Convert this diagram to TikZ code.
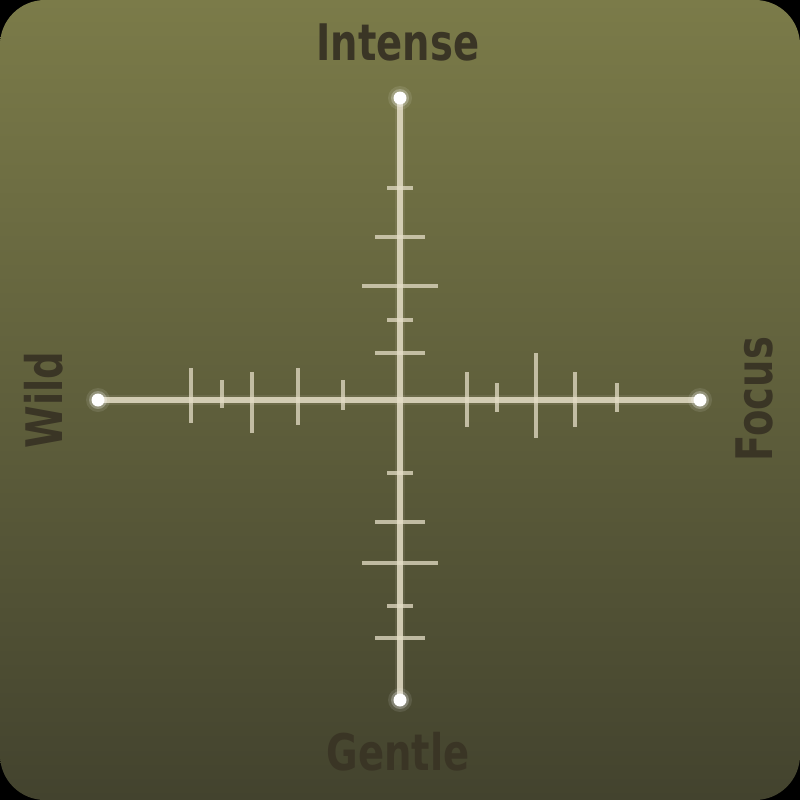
\documentclass[tikz,border=0pt]{standalone}
\usepackage{fontspec}
\newfontfamily\axfont{DejaVu Sans Condensed}
\definecolor{bgtop}{HTML}{7B7B49}
\definecolor{bgbot}{HTML}{43432E}
\definecolor{ink}{HTML}{3A3525}
\definecolor{chalk}{HTML}{E4DDC6}
\newcommand\narrow[1]{\scalebox{.85}[1]{#1}}
\tikzset{px/.style={x=.3mm,y=-.3mm},
  axisline/.style={chalk,line width=4.3pt,opacity=.85},
  glowline/.style={chalk,line width=8pt,opacity=.1},
  tickline/.style={chalk,line width=4pt,opacity=.75},
  pole/.style={ink,inner sep=0pt,anchor=base,font=\axfont\bfseries\fontsize{43}{43}\selectfont}}

\begin{document}
\begin{tikzpicture}[px]
  \fill[black] (0,0) rectangle (800,800);
  \shade[top color=bgtop,bottom color=bgbot,rounded corners=13.5mm] (0,0) rectangle (800,800);
  \coordinate (west) at (98,400);
  \coordinate (east) at (700,400);
  \coordinate (north) at (400,98);
  \coordinate (south) at (400,700);
  \foreach \x/\a/\b in {191/368/423,222/380/408,252/372/433,298/368/425,343/380/410,467/372/427,497/383/412,536/353/438,575/372/427,617/383/412}{\draw[tickline](\x,\a)--(\x,\b);}
  \foreach \y/\h in {188/13,237/25,286/38,320/13,353/25,473/13,522/25,563/38,606/13,638/25}{\draw[tickline](400-\h,\y)--(400+\h,\y);}
  \draw[glowline] (west) -- (east);
  \draw[glowline] (north) -- (south);
  \draw[axisline] (west) -- (east);
  \draw[axisline] (north) -- (south);
  \foreach \p in {west,east,north,south}{\fill[white,opacity=.1](\p) circle(12);\fill[white,opacity=.25](\p) circle(9);\fill[white](\p) circle(6.5);}
  \node[pole] (intense) at (398,60) {\narrow{Intense}};
  \node[pole] (gentle) at (398,770) {\narrow{Gentle}};
  \node[pole,rotate=90] (wild) at (62,400) {\narrow{Wild}};
  \node[pole,rotate=90] (focus) at (772,399) {\narrow{Focus}};
\end{tikzpicture}
\end{document}
